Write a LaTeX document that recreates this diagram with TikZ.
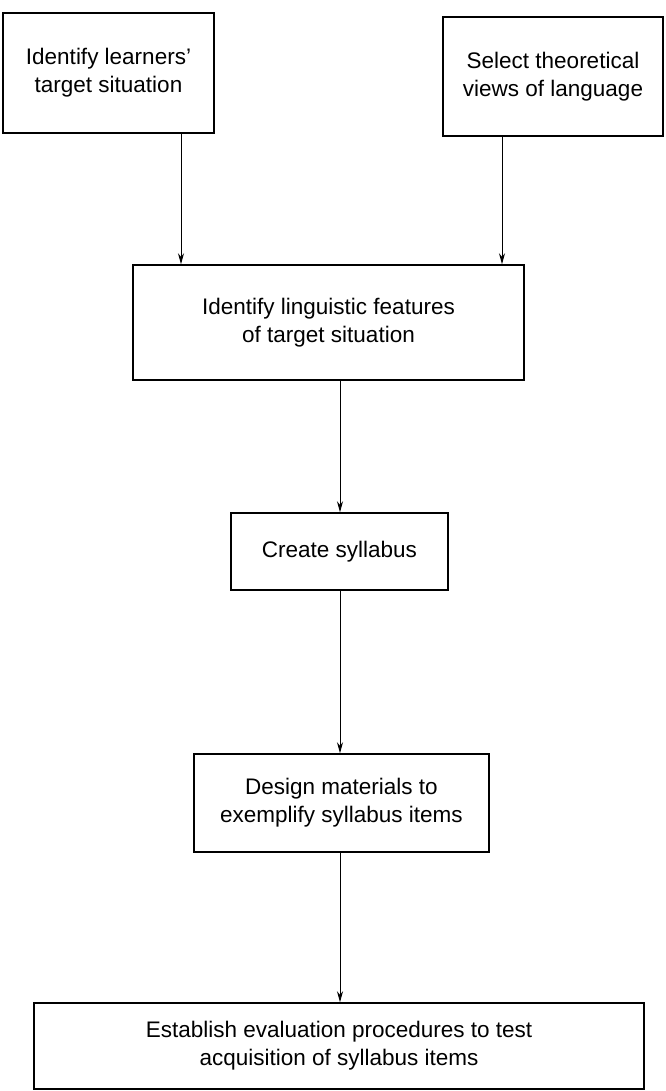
\documentclass[tikz,border=0pt]{standalone}
\usepackage{fontspec}
\setmainfont{Liberation Sans}
\usepackage{tikz}
\usetikzlibrary{arrows.meta}

\begin{document}
\begin{tikzpicture}[x=1pt,y=-1pt,
		stepbox/.style={draw=black,line width=1.5pt,align=center,inner sep=0pt,font=\fontsize{22.5}{28}\selectfont},
		flow/.style={line width=1pt,-{Stealth[length=11pt,width=6pt]}}]
				\useasboundingbox (0,0) rectangle (665,1091);
				\node[stepbox,minimum width=211pt,minimum height=120pt] (learners) at (108.5,73) {Identify learners'\\target situation};
				\node[stepbox,minimum width=220pt,minimum height=119pt] (views) at (553,76.5) {Select theoretical\\views of language};
				\node[stepbox,minimum width=391pt,minimum height=115pt] (features) at (328.5,322.5) {Identify linguistic features\\of target situation};
				\node[stepbox,minimum width=217pt,minimum height=77pt] (syllabus) at (339.5,551.5) {Create syllabus};
				\node[stepbox,minimum width=295pt,minimum height=98pt] (materials) at (341.5,803) {Design materials to\\exemplify syllabus items};
				\node[stepbox,minimum width=610pt,minimum height=86pt] (evaluation) at (339,1046) {Establish evaluation procedures to test\\acquisition of syllabus items};
				
				\coordinate (leftdrop) at (181,0);
				\coordinate (rightdrop) at (502,0);
				\coordinate (middrop) at (340,0);
				
				\draw[flow] (learners.south -| leftdrop) -- (features.north -| leftdrop);
				\draw[flow] (views.south -| rightdrop) -- (features.north -| rightdrop);
				\draw[flow] (features.south -| middrop) -- (syllabus.north -| middrop);
				\draw[flow] (syllabus.south -| middrop) -- (materials.north -| middrop);
				\draw[flow] (materials.south -| middrop) -- (evaluation.north -| middrop);
			\end{tikzpicture}
\end{document}
